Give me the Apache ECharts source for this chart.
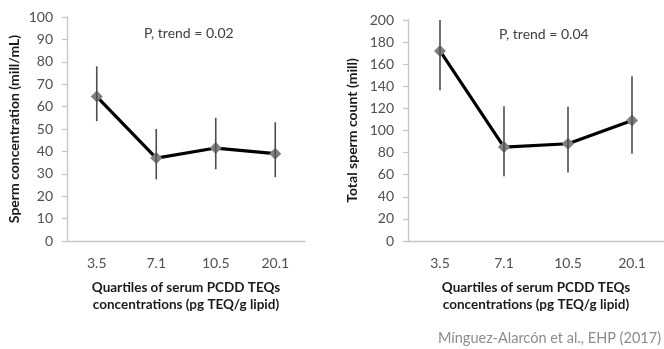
<!DOCTYPE html>
<html>
<head>
<meta charset="utf-8">
<script src="https://cdn.jsdelivr.net/npm/echarts@6/dist/echarts.min.js"></script>
<style>
html,body{margin:0;padding:0;background:#fff;}
#chart{width:664px;height:349px;}
</style>
</head>
<body>
<div id="chart"></div>
<script>
var quartiles = ['3.5', '7.1', '10.5', '20.1'];

// sperm concentration (mill/mL)
var concMean = [64.5, 37, 41.5, 39];
var concLow = [53.5, 27.5, 32, 28.5];
var concHigh = [78, 50, 55, 53];

// total sperm count (mill)
var countMean = [172, 85, 88, 109];
var countLow = [136.5, 58.5, 62, 79];
var countHigh = [200, 122, 121.5, 149];

var fnt = 'Lato';

function errData(lo, hi){
  var out = [];
  for (var i = 0; i < lo.length; i++){
    out.push([i, lo[i], hi[i]]);
  }
  return out;
}

function renderErr(params, api){
  var a = api.coord([api.value(0), api.value(1)]);
  var b = api.coord([api.value(0), api.value(2)]);
  return {
    type:'line',
    shape:{x1:a[0], y1:a[1], x2:b[0], y2:b[1]},
    style:{stroke:'#4d4d4d', lineWidth:1.6}
  };
}

function xAx(idx){
  return {
    type:'category',
    gridIndex:idx,
    data:quartiles,
    boundaryGap:true,
    axisLine:{lineStyle:{color:'#c6c6c6', width:1.3}},
    axisTick:{show:false},
    axisLabel:{color:'#505050', fontFamily:fnt, fontSize:14, margin:15},
    name:'Quartiles of serum PCDD TEQs\nconcentrations (pg TEQ/g lipid)',
    nameLocation:'middle',
    nameGap:38,
    nameTextStyle:{color:'#1a1a1a', fontFamily:fnt, fontWeight:'bold', fontSize:13.5, lineHeight:17}
  };
}

function yAx(idx, max, step, name, gap){
  return {
    type:'value',
    gridIndex:idx,
    min:0,
    max:max,
    interval:step,
    splitLine:{show:false},
    axisLine:{show:true, lineStyle:{color:'#c6c6c6', width:1.3}},
    axisTick:{show:true, length:5, lineStyle:{color:'#c6c6c6', width:1.3}},
    axisLabel:{color:'#505050', fontFamily:fnt, fontSize:14, margin:14},
    name:name,
    nameLocation:'middle',
    nameGap:gap,
    nameTextStyle:{color:'#1a1a1a', fontFamily:fnt, fontWeight:'bold', fontSize:14}
  };
}

var chart = echarts.init(document.getElementById('chart'));
chart.setOption({
  animation:false,
  grid:[
    {left:67, top:17, width:238, bottom:108},
    {left:408, top:20, width:256, bottom:108}
  ],
  xAxis:[xAx(0), xAx(1)],
  yAxis:[
    yAx(0, 100, 10, 'Sperm concentration (mill/mL)', 46),
    yAx(1, 200, 20, 'Total sperm count (mill)', 49)
  ],
  graphic:[
    {type:'text', left:144, top:26,
     style:{text:'P, trend = 0.02', fill:'#404040', font:'14px Lato'}},
    {type:'text', left:499, top:27,
     style:{text:'P, trend = 0.04', fill:'#404040', font:'14px Lato'}},
    {type:'text', right:3, top:331,
     style:{text:'Mínguez-Alarcón et al., EHP (2017)', fill:'#8c8c8c', font:'14.5px Lato'}}
  ],
  series:[
    {type:'custom', xAxisIndex:0, yAxisIndex:0, renderItem:renderErr,
     data:errData(concLow, concHigh), z:3},
    {type:'line', xAxisIndex:0, yAxisIndex:0, data:concMean,
     symbol:'diamond', symbolSize:12, z:2,
     lineStyle:{color:'#000', width:3.2},
     itemStyle:{color:'#7f7f7f'}},
    {type:'custom', xAxisIndex:1, yAxisIndex:1, renderItem:renderErr,
     data:errData(countLow, countHigh), z:3},
    {type:'line', xAxisIndex:1, yAxisIndex:1, data:countMean,
     symbol:'diamond', symbolSize:12, z:2,
     lineStyle:{color:'#000', width:3.2},
     itemStyle:{color:'#7f7f7f'}}
  ]
});
</script>
</body>
</html>
